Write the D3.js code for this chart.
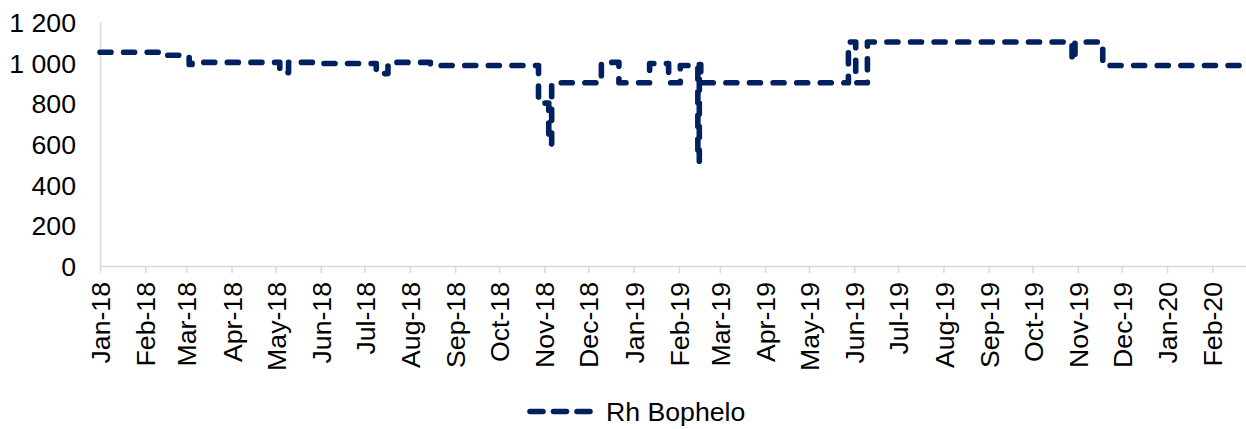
<!DOCTYPE html>
<html>
<head>
<meta charset="utf-8">
<script src="https://cdn.jsdelivr.net/npm/d3@7"></script>
<style>
  html, body { margin: 0; padding: 0; background: #fff; }
  svg { display: block; font-family: "Liberation Sans", Arial, sans-serif; }
</style>
</head>
<body>
<svg id="chart" width="1246" height="429"></svg>
<script>
// ---- Data (change points of the daily series; value holds until next date) ----
const seriesName = "Rh Bophelo";
const changeDates = [
  "2018-01-01","2018-02-14","2018-03-03","2018-03-05","2018-05-04","2018-05-10",
  "2018-06-01","2018-07-09","2018-07-17","2018-08-15","2018-10-28","2018-11-04",
  "2018-11-06","2018-12-10","2018-12-22","2019-01-12","2019-01-25","2019-02-02",
  "2019-02-14","2019-02-15","2019-02-16","2019-05-28","2019-06-02","2019-06-10",
  "2019-10-28","2019-10-30","2019-11-18","2019-11-23","2020-02-22"
];
const changeValues = [
  1050, 1035, 990, 1000, 950, 1000,
  995, 945, 1000, 985, 800, 600,
  900, 1000, 900, 995, 900, 985,
  515, 990, 900, 1100, 900, 1100,
  1010, 1100, 995, 985, 985
];
const tickLabels = [
  "Jan-18","Feb-18","Mar-18","Apr-18","May-18","Jun-18","Jul-18","Aug-18","Sep-18",
  "Oct-18","Nov-18","Dec-18","Jan-19","Feb-19","Mar-19","Apr-19","May-19","Jun-19",
  "Jul-19","Aug-19","Sep-19","Oct-19","Nov-19","Dec-19","Jan-20","Feb-20"
];
const yTicks = [0, 200, 400, 600, 800, 1000, 1200];
const xDomain = ["2018-01-01", "2020-02-24"];

// ---- Setup ----
const parseISO = d3.utcParse("%Y-%m-%d");
const parseTick = d3.utcParse("%b-%y");
const data = changeDates.map((d, i) => ({ date: parseISO(d), value: changeValues[i] }));
const tickDates = tickLabels.map(t => parseTick(t));
const fmtLocale = d3.formatLocale({ decimal: ".", thousands: " ", grouping: [3], currency: ["", ""] });
const yFmt = fmtLocale.format(",d");

const svg = d3.select("#chart");
const x = d3.scaleUtc().domain(xDomain.map(parseISO)).range([100, 1246]);
const y = d3.scaleLinear().domain([0, 1200]).range([266, 21.7]);

const axisColor = "#d9d9d9";
const lineColor = "#002060";
const fontSize = "26.67px";

// X axis
const xAxis = svg.append("g")
  .attr("transform", `translate(0,${y(0)})`)
  .call(d3.axisBottom(x).tickValues(tickDates).tickSize(7).tickSizeOuter(0)
        .tickFormat((d, i) => tickLabels[i]));
xAxis.select(".domain").attr("stroke", axisColor).attr("stroke-width", 1.5);
xAxis.selectAll(".tick line").attr("stroke", axisColor).attr("stroke-width", 1.5);
xAxis.selectAll(".tick text")
  .attr("fill", "#000")
  .style("font-size", fontSize)
  .attr("text-anchor", "end")
  .attr("transform", "rotate(-90)")
  .attr("x", -16)
  .attr("y", 0)
  .attr("dy", "0.36em");

// Y axis
const yAxis = svg.append("g")
  .attr("transform", `translate(${x.range()[0]},0)`)
  .call(d3.axisLeft(y).tickValues(yTicks).tickSize(0).tickSizeOuter(0).tickPadding(24).tickFormat(yFmt));
yAxis.select(".domain").attr("stroke", axisColor).attr("stroke-width", 1.5);
yAxis.selectAll(".tick text").attr("fill", "#000").style("font-size", fontSize).attr("dy", "0.36em");

// Series line
const line = d3.line()
  .x(d => x(d.date))
  .y(d => y(d.value))
  .curve(d3.curveStepAfter);

svg.append("path")
  .datum(data)
  .attr("fill", "none")
  .attr("stroke", lineColor)
  .attr("stroke-width", 5.6)
  .attr("stroke-linecap", "round")
  .attr("stroke-linejoin", "round")
  .attr("stroke-dasharray", "11,12.6")
  .attr("d", line);

// Legend
const legend = svg.append("g").attr("transform", "translate(530,411.5)");
legend.append("line")
  .attr("x1", 0).attr("x2", 63).attr("y1", 0).attr("y2", 0)
  .attr("stroke", lineColor).attr("stroke-width", 5.6)
  .attr("stroke-linecap", "round")
  .attr("stroke-dasharray", "13,10.5");
legend.append("text")
  .attr("x", 76).attr("y", 0).attr("dy", "0.36em")
  .attr("fill", "#000")
  .style("font-size", fontSize)
  .text(seriesName);
</script>
</body>
</html>
